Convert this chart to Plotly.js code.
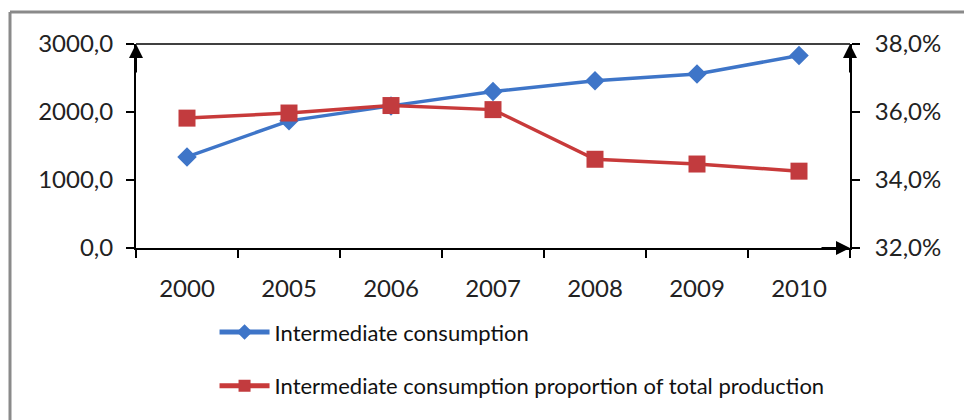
<!DOCTYPE html>
<html>
<head>
<meta charset="utf-8">
<script src="https://cdn.plot.ly/plotly-3.0.1.min.js"></script>
<style>html,body{margin:0;padding:0;background:#fff}#chart{width:964px;height:420px}</style>
</head>
<body>
<div id="chart"></div>
<script>
const years = ['2000', '2005', '2006', '2007', '2008', '2009', '2010'];
const consumption = [1340, 1870, 2090, 2300, 2460, 2560, 2830];
const proportion = [0.3582, 0.3597, 0.3619, 0.3607, 0.3461, 0.3447, 0.3426];
const leftTicks = [0, 1000, 2000, 3000];
const leftTickText = ['0,0', '1000,0', '2000,0', '3000,0'];
const rightTicks = [0.32, 0.34, 0.36, 0.38];
const rightTickText = ['32,0%', '34,0%', '36,0%', '38,0%'];
const seriesNames = ['Intermediate consumption', 'Intermediate consumption proportion of total production'];

const FONT = 'Lato, "Open Sans", sans-serif';

const traces = [
  {
    x: years, y: consumption, name: seriesNames[0], type: 'scatter', mode: 'lines+markers',
    line: {color: '#3E75C8', width: 3.5},
    marker: {symbol: 'diamond', size: 15, color: '#3E75C8'},
    legendgroup: 'a', yaxis: 'y'
  },
  {
    x: years, y: proportion, name: seriesNames[1], type: 'scatter', mode: 'lines+markers',
    line: {color: '#C83A3A', width: 3.5},
    marker: {symbol: 'square', size: 17, color: '#C23B3E'},
    legendgroup: 'b', yaxis: 'y2'
  }
];

const layout = {
  width: 964, height: 420,
  margin: {l: 136, r: 114, t: 44, b: 172},
  paper_bgcolor: '#ffffff', plot_bgcolor: '#ffffff',
  font: {family: FONT, color: '#222', size: 24},
  showlegend: true,
  legend: {
    x: 0.11, y: -0.31, xanchor: 'left', yanchor: 'top',
    orientation: 'v', tracegroupgap: 22, itemsizing: 'constant', itemwidth: 50,
    font: {family: FONT, size: 22, color: '#111'},
    bgcolor: 'rgba(0,0,0,0)'
  },
  xaxis: {
    type: 'category', range: [-0.5, 6.5],
    showline: true, linecolor: '#000', linewidth: 2,
    ticks: 'outside', tickson: 'boundaries', ticklen: 8, tickwidth: 2, tickcolor: '#000',
    showgrid: false, zeroline: false,
    tickfont: {family: FONT, size: 24, color: '#222'},
    ticklabelstandoff: 18
  },
  yaxis: {
    range: [0, 3000], tickvals: leftTicks, ticktext: leftTickText,
    showline: true, linecolor: '#000', linewidth: 2,
    ticks: 'outside', ticklen: 8, tickwidth: 2, tickcolor: '#000',
    showgrid: false, zeroline: false,
    tickfont: {family: FONT, size: 24, color: '#222'},
    ticklabelstandoff: 8
  },
  yaxis2: {
    overlaying: 'y', side: 'right',
    range: [0.32, 0.38], tickvals: rightTicks, ticktext: rightTickText,
    showline: true, linecolor: '#000', linewidth: 2,
    ticks: 'outside', ticklen: 8, tickwidth: 2, tickcolor: '#000',
    showgrid: false, zeroline: false,
    tickfont: {family: FONT, size: 24, color: '#222'},
    ticklabelstandoff: 10
  },
  shapes: [
    {type: 'line', xref: 'paper', yref: 'paper', x0: 0, x1: 1, y0: 1, y1: 1, line: {color: '#000', width: 1.5}},
    {type: 'line', xref: 'paper', yref: 'paper', x0: -126/714, x1: -126/714, y0: 1 + 32/204, y1: -176/204, line: {color: '#8a8a8a', width: 3}},
    {type: 'line', xref: 'paper', yref: 'paper', x0: -126/714, x1: 828/714, y0: 1 + 32/204, y1: 1 + 32/204, line: {color: '#8a8a8a', width: 3}}
  ],
  annotations: [
    {xref: 'paper', yref: 'paper', x: 0, y: 1, ax: 0, ay: 30, text: '', showarrow: true, arrowhead: 2, arrowsize: 1.4, arrowwidth: 2, arrowcolor: '#000'},
    {xref: 'paper', yref: 'paper', x: 1, y: 1, ax: 0, ay: 30, text: '', showarrow: true, arrowhead: 2, arrowsize: 1.4, arrowwidth: 2, arrowcolor: '#000'},
    {xref: 'paper', yref: 'paper', x: 1, y: 0, ax: -30, ay: 0, text: '', showarrow: true, arrowhead: 2, arrowsize: 1.4, arrowwidth: 2, arrowcolor: '#000'}
  ]
};

Plotly.newPlot('chart', traces, layout, {displayModeBar: false, staticPlot: true});
</script>
</body>
</html>
